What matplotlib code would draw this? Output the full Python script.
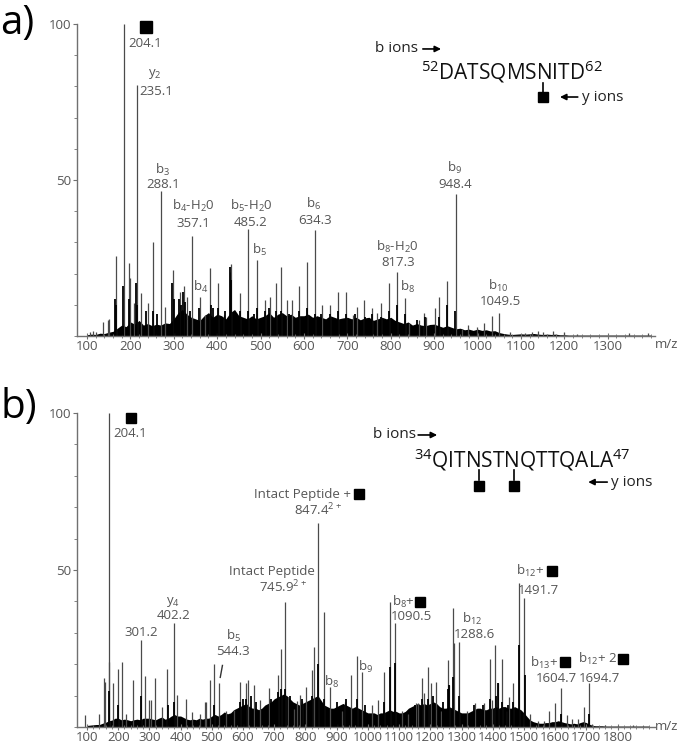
import numpy as np
import matplotlib
matplotlib.use("Agg")
import matplotlib.pyplot as plt

plt.rcParams['font.family'] = ['Open Sans', 'DejaVu Sans']
plt.rcParams['mathtext.fontset'] = 'custom'
plt.rcParams['mathtext.rm'] = 'Open Sans'

# ---------------- Panel a data ----------------
a_mz = [106, 114, 121, 138, 148, 151, 167.5, 184.5, 196, 200, 208, 214.5, 224, 240, 252, 271,
        280.4, 298.2, 313.6, 322.8, 330.4, 341.2, 359.7, 371.2, 384.1, 401.2, 415, 428.8, 431.8,
        453.2, 471.7, 491.7, 510.8, 521, 535.5, 546.3, 560.8, 572.4, 589.2, 606.9, 624.7, 641.5,
        660.6, 678.3, 696.1, 712.9, 722.1, 739, 757.4, 767.5, 777.4, 795.2, 813.6, 832, 842.6,
        865.7, 876.5, 881, 901.8, 911, 929.5, 949.5, 963.4, 978.6, 997.9, 1015.4, 1033.2, 1050,
        1075, 1110, 1125, 1140, 1150, 1175, 1200, 1230, 1350, 1393]
a_int = [1.2, 1.5, 1.2, 4.6, 5.0, 5.5, 25.7, 100, 23.5, 18.6, 10.7, 80.4, 13.8, 10.6, 30, 46.5,
         9.3, 21, 14.2, 16, 12.6, 32, 12.6, 6.7, 21.7, 17, 6.7, 20.6, 23,
         13.8, 34.2, 24.4, 11.5, 12.6, 16.9, 22.2, 11.5, 11.5, 16.1, 23.8, 34, 10,
         10, 14, 14.2, 6.8, 9.3, 11.5, 8.9, 7.5, 10.5, 17.1, 20.6, 12.3, 4.3,
         5.1, 7.5, 6, 8.9, 12.6, 17.6, 45.5, 2.1, 3.5, 3, 4.3, 6.4, 7.5,
         1.2, 1.0, 1.3, 1.5, 1.2, 1.5, 1.2, 0.7, 1.0, 1.0]
# dark lower parts of dense peak clusters
a_dense_mz = [164.5, 167, 183, 197, 212, 215, 236, 251, 262, 297, 300, 313, 316, 321, 325, 338,
              357, 386, 390, 402, 418, 430, 433, 452, 472, 486, 492, 510, 519, 536, 547,
              566, 589, 607, 625, 640, 660, 678, 697, 718, 740, 757, 778, 796, 814, 832,
              860, 878, 912, 930, 949]
a_dense_int = [12, 10, 16, 12, 17, 10, 8, 8, 7, 17, 12, 12, 10, 14, 11, 8,
               9, 10, 9, 9, 8, 22, 18, 8, 8, 7, 9, 8, 9, 8, 8,
               7, 8, 9, 7, 7, 7, 8, 7, 7, 6, 7, 6, 8, 10, 7,
               5, 6, 6, 10, 8]
# baseline envelope, every 10 m/z from 100 to 1400
a_base_mz = list(range(100, 1401, 10))
a_base = [0.4, 0.6, 0.5, 0.9, 0.8, 1.2, 1.5, 2.5, 3.5, 3.0,
          4.5, 3.8, 5.0, 3.5, 4.0, 3.3, 3.8, 3.5, 4.2, 4.0,
          5.5, 7.5, 8.5, 7.0, 6.0, 5.5, 5.0, 6.5, 7.5, 6.0,
          7.0, 6.5, 5.5, 7.5, 8.5, 6.5, 6.0, 5.5, 6.5, 5.5,
          6.0, 6.5, 7.5, 6.0, 7.0, 7.5, 6.5, 7.0, 6.0, 6.5,
          6.5, 7.0, 6.0, 6.5, 6.0, 5.5, 6.5, 6.0, 5.5, 5.8,
          6.0, 5.5, 6.0, 5.2, 5.8, 6.0, 5.0, 5.5, 6.0, 5.5,
          6.0, 5.0, 4.5, 4.0, 4.5, 3.5, 4.0, 3.5, 3.3, 3.7,
          3.8, 3.3, 2.8, 3.3, 2.8, 2.3, 2.5, 2.0, 2.2, 1.8,
          2.2, 1.8, 2.0, 1.6, 1.7, 1.1, 0.8, 0.6, 0.5, 0.6,
          0.7, 0.6, 0.7, 0.8, 0.6, 0.5, 0.6, 0.5, 0.6, 0.4,
          0.4, 0.3, 0.3, 0.3, 0.3, 0.3, 0.3, 0.3, 0.3, 0.3,
          0.3, 0.3, 0.3, 0.3, 0.3, 0.3, 0.3, 0.3, 0.3, 0.3, 0.3]

# ---------------- Panel b data ----------------
b_mz = [92.6, 137.5, 153.5, 158.7, 169.6, 171.5, 184.3, 200.3, 213.1, 226, 246.5, 273, 285.9,
        297.8, 305, 317, 339.4, 357.4, 377.9, 389.4, 416.3, 436.5, 461.2, 477.2, 482.4, 495.2,
        508, 524, 546.5, 570.2, 591.3, 610.6, 615, 634.3, 653.5, 682.4, 713.1, 721.8, 733.7,
        744.2, 764.4, 773.1, 781.7, 790, 801, 820.2, 828.5, 839.4, 860.6, 877.9, 917.3, 927.9,
        946.2, 965.4, 982.4, 1014.4, 1033.7, 1051, 1071.2, 1088.1, 1108.7, 1129.8, 1154.5,
        1161.9, 1173.7, 1181.1, 1192, 1201.6, 1218.6, 1234.6, 1257, 1261.2, 1274, 1277.2,
        1292.3, 1317, 1343.6, 1372.4, 1391.7, 1397.1, 1408.7, 1416.3, 1431.1, 1445.2, 1453.5,
        1466.3, 1483.7, 1501.6, 1519.9, 1546.5, 1565.7, 1581.7, 1601, 1618.3, 1637.5, 1655.4,
        1674.7, 1692.9, 1709, 1718.6, 1760, 1800, 1850, 1880]
b_int = [3.8, 4.1, 15.5, 14.4, 20.8, 100, 13.9, 18.4, 20.8, 4, 15, 27.7, 16.3,
         8.6, 8.6, 15.5, 6.5, 18.5, 33, 10.2, 8.8, 4.9, 4, 7.9, 8, 15,
         20, 13.9, 5, 5.5, 14.4, 13.9, 15, 13.4, 8.6, 12.3, 16.6, 24.7, 39.9,
         9.7, 5.6, 8.4, 10.2, 8.4, 12.8, 18.2, 25.4, 65, 36.7, 12.8, 5, 8,
         16.6, 22.7, 17.6, 7, 8.6, 17.6, 39.9, 33.2, 5, 4, 7.5,
         7.5, 15.5, 10.7, 19.2, 13.9, 14.4, 5, 21.3, 13.4, 37.8, 26.6,
         27.2, 5, 7.5, 7.5, 21.6, 8.5, 26.1, 14, 21.7, 5, 9.7,
         14.1, 45.8, 41, 4, 2, 2, 5.2, 7.5, 12.3, 3.8, 2.5,
         2.5, 6.5, 13.9, 0.8, 0.5, 0.4, 0.5, 0.3]
b_dense_mz = [171.5, 200, 273, 358, 378, 508, 591, 600, 611, 624, 640, 690, 713, 722, 734,
              750, 790, 820, 839, 861, 900, 930, 965, 990, 1051, 1071, 1088, 1150, 1175, 1192,
              1210, 1240, 1257, 1261, 1274, 1292, 1340, 1370, 1392, 1409, 1416, 1431, 1450,
              1466, 1484, 1502, 1618, 1709]
b_dense_int = [11.6, 7, 10, 7, 8, 7, 8, 9, 9, 10, 8, 9, 11, 12, 12,
               10, 9, 10, 20, 9, 8, 9, 9, 7, 8, 19, 20.5, 7, 9, 9,
               10, 8, 12, 13.4, 16, 10, 7, 7, 9, 10, 14, 8, 7,
               8, 26, 16.6, 4, 4]
b_base_mz = list(range(100, 1901, 10))
b_base = [0.5, 0.6, 0.7, 0.8, 0.8, 1.2, 1.5, 2.0, 2.2, 2.8,
          2.8, 2.3, 2.5, 2.3, 2.0, 2.3, 2.5, 2.3, 2.8, 2.8,
          2.8, 2.5, 2.3, 2.8, 3.2, 2.5, 2.8, 3.5, 4.0, 3.5,
          3.5, 3.0, 2.5, 2.3, 2.5, 2.3, 2.8, 2.5, 2.8, 2.8,
          3.5, 4.0, 3.5, 4.0, 4.8, 4.2, 4.5, 5.5, 6.0, 6.5,
          7.0, 7.5, 6.5, 6.0, 6.0, 5.5, 6.0, 7.0, 7.5, 8.0,
          9.0, 9.5, 10.0, 10.5, 10.0, 9.0, 8.0, 7.5, 7.0, 7.5,
          8.0, 8.5, 9.0, 9.5, 10.0, 8.5, 7.0, 6.5, 6.0, 6.0,
          6.5, 7.0, 7.5, 7.0, 6.5, 6.0, 6.5, 6.0, 5.5, 5.0,
          4.5, 4.5, 4.5, 4.0, 4.5, 4.5, 5.0, 5.5, 5.0, 5.0,
          4.5, 4.5, 5.0, 6.0, 6.5, 7.0, 7.5, 7.0, 7.5, 7.0,
          7.5, 8.0, 7.5, 6.5, 6.0, 6.0, 6.5, 6.0, 5.5, 5.0,
          4.5, 4.5, 4.5, 5.0, 5.5, 6.0, 6.0, 5.5, 5.5, 6.0,
          6.0, 6.5, 6.0, 6.5, 6.5, 6.0, 6.0, 6.5, 6.0, 5.5,
          4.5, 3.3, 2.2, 1.7, 1.4, 1.2, 1.2, 1.4, 1.4, 1.7,
          1.7, 2.0, 1.7, 1.4, 1.2, 1.0, 1.2, 1.0, 1.4, 1.7,
          1.4, 0.9, 0.5, 0.4, 0.4, 0.4, 0.3, 0.3, 0.3, 0.3,
          0.3, 0.3, 0.3, 0.3, 0.3, 0.3, 0.3, 0.3, 0.3, 0.3, 0.3]

a_xticks = list(range(100, 1301, 100))
b_xticks = list(range(100, 1801, 100))

GRAY = '#555555'
PEAK = '#4a4a4a'

fig = plt.figure(figsize=(6.8, 7.43), dpi=100)
axa = fig.add_axes([77/680, 1-336/743, 578/680, 312/743])
axb = fig.add_axes([77/680, 1-727/743, 578/680, 314/743])


def style(ax, xlim, xticks):
    ax.set_xlim(*xlim)
    ax.set_ylim(0, 100)
    for s in ['top', 'right']:
        ax.spines[s].set_visible(False)
    for s in ['left', 'bottom']:
        ax.spines[s].set_color('#707070')
        ax.spines[s].set_linewidth(1.0)
    ax.set_xticks(xticks)
    ax.set_xticklabels([str(t) for t in xticks])
    ax.set_xticks(np.arange(xticks[0], xlim[1], 20), minor=True)
    ax.set_yticks([50, 100])
    ax.set_yticklabels(['50', '100'])
    ax.set_yticks(np.arange(0, 101, 10), minor=True)
    ax.tick_params(axis='x', which='major', direction='inout', length=4, width=0.8,
                   color='#707070', labelsize=9.5, labelcolor=GRAY, pad=1)
    ax.tick_params(axis='x', which='minor', direction='inout', length=3, width=0.6, color='#707070')
    ax.tick_params(axis='y', which='major', direction='out', length=3, width=0.8,
                   color='#707070', labelsize=9.5, labelcolor=GRAY, pad=1)
    ax.tick_params(axis='y', which='minor', direction='out', length=2, width=0.6, color='#707070')
    ax.set_facecolor('none')


def draw(ax, base_mz, base, mz, inten, dmz, dint):
    ax.fill_between(base_mz, 0, base, color='black', lw=0)
    ax.vlines(mz, 0, inten, colors=PEAK, lw=0.9)
    ax.vlines(dmz, 0, dint, colors='black', lw=1.3)


def txt(ax, x, y, s, size=9.5, color=GRAY, ha='center'):
    ax.text(x, y, s, fontsize=size, color=color, ha=ha, va='center', clip_on=False)


def square(ax, x, y, ms=8):
    ax.plot([x], [y], marker='s', ms=ms, color='black', mec='black', clip_on=False)


def arrow(ax, x1, x2, y):
    ax.annotate('', xy=(x2, y), xytext=(x1, y),
                arrowprops=dict(arrowstyle='-|>', color='black', lw=1.2, mutation_scale=9,
                                shrinkA=0, shrinkB=0), annotation_clip=False)


def sub(a, b):
    return a + r'$_\mathregular{' + b + '}$'


# ---------------- Panel a ----------------
style(axa, (77, 1409), a_xticks)
draw(axa, a_base_mz, a_base, a_mz, a_int, a_dense_mz, a_dense_int)
square(axa, 236, 99, 8)
txt(axa, 234, 93.6, '204.1')
txt(axa, 257, 84, sub('y', '2'))
txt(axa, 259, 78.5, '235.1')
txt(axa, 273, 53.2, sub('b', '3'))
txt(axa, 275, 48.7, '288.1')
txt(axa, 344, 41.7, sub('b', '4') + '-' + sub('H', '2') + '0')
txt(axa, 344, 36.2, '357.1')
txt(axa, 478, 41.7, sub('b', '5') + '-' + sub('H', '2') + '0')
txt(axa, 478, 36.5, '485.2')
txt(axa, 497, 27.6, sub('b', '5'))
txt(axa, 621, 42.3, sub('b', '6'))
txt(axa, 625, 36.9, '634.3')
txt(axa, 363, 15.7, sub('b', '4'))
txt(axa, 814, 28.5, sub('b', '8') + '-' + sub('H', '2') + '0')
txt(axa, 817, 23.7, '817.3')
txt(axa, 838, 15.7, sub('b', '8'))
txt(axa, 948, 53.8, sub('b', '9'))
txt(axa, 948, 48.7, '948.4')
txt(axa, 1047, 16.2, sub('b', '10'))
txt(axa, 1052, 10.9, '1049.5')
# sequence key
txt(axa, 814, 92, 'b ions', size=11, color='#222222')
arrow(axa, 874, 916, 92)
txt(axa, 1080, 84.6, r'$^\mathregular{52}$DATSQMSNITD$^\mathregular{62}$', size=15, color='#111111')
axa.plot([1151, 1151], [81.2, 78.3], color='black', lw=1.2, clip_on=False)
square(axa, 1151, 76.6, 7.5)
arrow(axa, 1231, 1190, 76.6)
txt(axa, 1240, 76.6, 'y ions', size=11, color='#222222', ha='left')

# ---------------- Panel b ----------------
style(axb, (68, 1920), b_xticks)
draw(axb, b_base_mz, b_base, b_mz, b_int, b_dense_mz, b_dense_int)
square(axb, 241, 98.4, 7.5)
txt(axb, 238, 93.6, '204.1')
txt(axb, 947, 74.2, 'Intact Peptide +', ha='right')
square(axb, 972, 74.2, 7.5)
txt(axb, 840, 69.1, r'847.4$^\mathregular{2+}$')
txt(axb, 693, 49.4, 'Intact Peptide')
txt(axb, 728, 44.6, r'745.9$^\mathregular{2+}$')
txt(axb, 376, 39.8, sub('y', '4'))
txt(axb, 376, 35.4, '402.2')
txt(axb, 273, 30, '301.2')
txt(axb, 568, 29, sub('b', '5'))
txt(axb, 568, 24.2, '544.3')
axb.plot([527, 534], [15.8, 19.6], color='#333333', lw=1.0)
txt(axb, 885, 14.3, sub('b', '8'))
txt(axb, 1150, 39.9, sub('b', '8') + '+', ha='right')
square(axb, 1168, 39.9, 7.5)
txt(axb, 1138, 35.3, '1090.5')
txt(axb, 991, 19.1, sub('b', '9'))
txt(axb, 1334, 34.4, sub('b', '12'))
txt(axb, 1340, 29.3, '1288.6')
txt(axb, 1566, 49.6, sub('b', '12') + '+', ha='right')
square(axb, 1591, 49.7, 7.5)
txt(axb, 1546, 43.6, '1491.7')
txt(axb, 1610, 20.5, sub('b', '13') + '+', ha='right')
square(axb, 1632, 20.6, 7.5)
txt(axb, 1605, 15.6, '1604.7')
txt(axb, 1797, 21.7, sub('b', '12') + '+ 2', ha='right')
square(axb, 1816, 21.8, 7.5)
txt(axb, 1741, 15.6, '1694.7')
# sequence key
txt(axb, 1084, 93, 'b ions', size=11, color='#222222')
arrow(axb, 1161, 1222, 93)
txt(axb, 1496, 85, r'$^\mathregular{34}$QITNSTNQTTQALA$^\mathregular{47}$', size=15, color='#111111')
for sx in [1356, 1469]:
    axb.plot([sx, sx], [81.8, 78.6], color='black', lw=1.2, clip_on=False)
    square(axb, sx, 76.8, 7.5)
arrow(axb, 1767, 1706, 78)
txt(axb, 1780, 78, 'y ions', size=11, color='#222222', ha='left')

# m/z labels and panel letters
fig.text(667/680, 1-345/743, 'm/z', fontsize=9.5, color=GRAY, ha='center', va='center')
fig.text(667/680, 1-727/743, 'm/z', fontsize=9.5, color=GRAY, ha='center', va='center')
fig.text(0.0, 1-24/743, 'a)', fontsize=29, color='black', ha='left', va='center')
fig.text(0.0, 1-408/743, 'b)', fontsize=29, color='black', ha='left', va='center')

fig.savefig('out.png', dpi=100)
